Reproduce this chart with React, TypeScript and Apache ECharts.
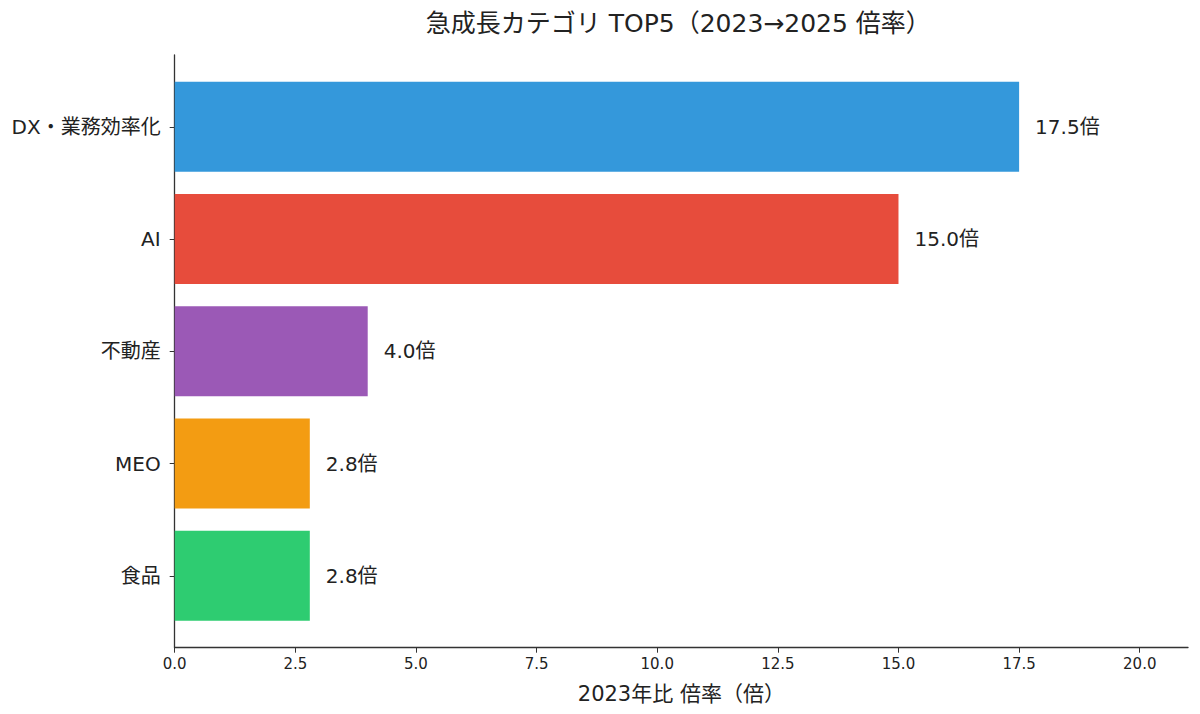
import * as echarts from 'echarts';
import { useEffect, useRef } from 'react';

const CATEGORIES = ['DX・業務効率化', 'AI', '不動産', 'MEO', '食品'];
const RATIOS = [17.5, 15.0, 4.0, 2.8, 2.8];
const COLORS = ['#3498db', '#e74c3c', '#9b59b6', '#f39c12', '#2ecc71'];
const X_TICKS = [0, 2.5, 5, 7.5, 10, 12.5, 15, 17.5, 20];

// wide latin glyphs first, CJK falls through to Noto
const FONT = '"DejaVu Sans", "Noto Sans CJK JP", sans-serif';
const INK = '#222';

// plot area (matplotlib-like axes box)
const LEFT = 174.7;
const RIGHT = 12;
const TOP = 55;
const BOTTOM = 66.3;
// bars use 5 bands inside a box padded by 0.14 band on each side
const BAND = 112.5;
const PAD = 0.14 * BAND;

export default function App() {
  const ref = useRef<HTMLDivElement | null>(null);

  useEffect(() => {
    if (!ref.current) return undefined;
    const chart = echarts.init(ref.current, undefined, { renderer: 'svg' });

    chart.setOption({
      animation: false,
      backgroundColor: '#fff',
      textStyle: { fontFamily: FONT },
      title: {
        text: '急成長カテゴリ TOP5（2023→2025 倍率）',
        left: (LEFT + 1200 - RIGHT) / 2 - 8,
        textAlign: 'center',
        top: 6,
        textStyle: { fontFamily: FONT, fontSize: 25, fontWeight: 'normal', color: INK },
      },
      grid: [
        { left: LEFT, right: RIGHT, top: TOP, bottom: BOTTOM },
        { left: LEFT, right: RIGHT, top: TOP + PAD, bottom: BOTTOM + PAD },
      ],
      xAxis: [
        {
          gridIndex: 0,
          type: 'value',
          min: 0,
          max: 21,
          name: '2023年比 倍率（倍）',
          nameLocation: 'middle',
          nameGap: 36,
          nameTextStyle: { fontFamily: FONT, fontSize: 21, color: INK },
          axisLine: { show: true, lineStyle: { color: '#333', width: 1.3 } },
          axisTick: { show: true, length: 5, lineStyle: { color: '#333' }, customValues: X_TICKS },
          axisLabel: {
            customValues: X_TICKS,
            formatter: (v: number) => v.toFixed(1),
            fontFamily: FONT,
            fontSize: 15,
            color: INK,
            margin: 9,
          },
          splitLine: { show: false },
        },
        { gridIndex: 1, type: 'value', min: 0, max: 21, show: false },
      ],
      yAxis: [
        {
          gridIndex: 0,
          type: 'value',
          min: 0,
          max: 1,
          axisLine: { show: true, lineStyle: { color: '#333', width: 1.3 } },
          axisTick: { show: false },
          axisLabel: { show: false },
          splitLine: { show: false },
        },
        {
          gridIndex: 1,
          type: 'category',
          inverse: true,
          data: CATEGORIES,
          axisLine: { show: false },
          axisTick: { show: true, alignWithLabel: true, length: 5, lineStyle: { color: '#333' } },
          axisLabel: { fontFamily: FONT, fontSize: 20, color: INK, margin: 14 },
          splitLine: { show: false },
        },
      ],
      series: [
        {
          type: 'bar',
          xAxisIndex: 1,
          yAxisIndex: 1,
          barWidth: 90,
          data: RATIOS.map((v, i) => ({ value: v, itemStyle: { color: COLORS[i] } })),
          label: {
            show: true,
            position: 'right',
            distance: 16,
            formatter: (p: { value: number }) => `${p.value.toFixed(1)}倍`,
            fontFamily: FONT,
            fontSize: 20,
            color: INK,
          },
        },
      ],
    });

    return () => chart.dispose();
  }, []);

  return (
    <div
      ref={ref}
      style={{ position: 'fixed', left: 0, top: 0, width: 1200, height: 714 }}
    />
  );
}
